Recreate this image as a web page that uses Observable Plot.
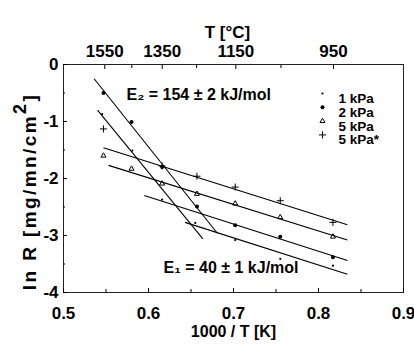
<!DOCTYPE html>
<html>
<head>
<meta charset="utf-8">
<script src="https://cdn.jsdelivr.net/npm/d3@7"></script>
<script src="https://cdn.jsdelivr.net/npm/@observablehq/plot@0.6"></script>
<style>
  html, body { margin: 0; padding: 0; background: #fff; }
  #chart { width: 414px; height: 344px; }
</style>
</head>
<body>
<div id="chart"></div>
<script>
// ---- data ----
const seriesNames = ["1 kPa", "2 kPa", "5 kPa", "5 kPa*"];
const seriesSymbols = ["circle", "circle", "triangle2", "plus"];

const invT_1kPa = [0.5455, 0.581, 0.616, 0.655, 0.702, 0.755, 0.817];
const lnR_1kPa  = [-0.87, -1.51, -2.37, -2.78, -3.08, -3.41, -3.53];
const invT_2kPa = [0.547, 0.580, 0.616, 0.657, 0.702, 0.755, 0.817];
const lnR_2kPa  = [-0.50, -1.01, -1.80, -2.49, -2.82, -3.02, -3.38];
const invT_5kPa = [0.547, 0.580, 0.616, 0.657, 0.702, 0.755, 0.817];
const lnR_5kPa  = [-1.60, -1.83, -2.09, -2.27, -2.44, -2.68, -3.02];
const invT_5kPaS = [0.547, 0.616, 0.657, 0.702, 0.755, 0.817];
const lnR_5kPaS  = [-1.13, -1.78, -1.96, -2.15, -2.39, -2.77];

// fitted Arrhenius lines (start / end points in data units)
const fitX1 = [0.536, 0.540, 0.547, 0.553, 0.595, 0.643];
const fitY1 = [-0.25, -0.80, -1.46, -1.77, -2.30, -2.77];
const fitX2 = [0.681, 0.664, 0.834, 0.834, 0.834, 0.834];
const fitY2 = [-2.96, -3.06, -2.81, -3.08, -3.44, -3.68];

const xTicks = [0.5, 0.6, 0.7, 0.8, 0.9];
const xMinorTicks = [0.55, 0.65, 0.75, 0.85];
const yTicks = [0, -1, -2, -3, -4];
const yMinorTicks = [-0.5, -1.5, -2.5, -3.5];
const tempLabelsC = [1550, 1350, 1150, 950];
const tempMinorC = [1450, 1250, 1050];

const xTitle = "1000 / T [K]";
const topTitle = "T [°C]";
const yTitleMain = "ln R [mg/mn/cm";
const yTitleSup = "2";
const yTitleEnd = "]";
const e2Label = "E₂ = 154 ± 2 kJ/mol";
const e1Label = "E₁ = 40 ± 1 kJ/mol";

// ---- build tables ----
const seriesX = [invT_1kPa, invT_2kPa, invT_5kPa, invT_5kPaS];
const seriesY = [lnR_1kPa, lnR_2kPa, lnR_5kPa, lnR_5kPaS];
const seriesData = seriesX.map((xs, s) => xs.map((x, i) => ({series: seriesNames[s], x, y: seriesY[s][i]})));
const fits = fitX1.map((x1, i) => ({x1, y1: fitY1[i], x2: fitX2[i], y2: fitY2[i]}));
const toInvT = c => 1000 / (c + 273);

const markerR = [1.1, 2, 2.4, 2.4];
const markerStyle = s => s < 2
  ? {symbol: seriesSymbols[s], r: markerR[s], fill: "black", stroke: "none"}
  : {symbol: seriesSymbols[s], r: markerR[s], fill: "none", stroke: "black", strokeWidth: 1};

const font = "'Liberation Sans', Arial, Helvetica, sans-serif";

const dataMarks = seriesData.map((data, s) => Plot.dot(data, {x: "x", y: "y", ...markerStyle(s)}));

const legendMarks = seriesNames.flatMap((name, i) => [
  Plot.dot([name], {frameAnchor: "top-right", dx: -81, dy: 29 + i * 13.8, ...markerStyle(i)}),
  Plot.text([name], {frameAnchor: "top-right", dx: -65, dy: 29 + i * 13.8, text: d => d,
    textAnchor: "start", fontSize: 13.5, fontWeight: "bold"})
]);

const chart = Plot.plot({
  width: 414,
  height: 344,
  marginLeft: 63,
  marginRight: 11,
  marginTop: 64,
  marginBottom: 52,
  style: {fontFamily: font, fontSize: "17px", fontWeight: "bold", background: "white", color: "black"},
  x: {domain: [0.5, 0.9]},
  y: {domain: [-4, 0]},
  marks: [
    Plot.frame({stroke: "#222", strokeWidth: 1}),
    // bottom axis
    Plot.axisX({ticks: xTicks, tickSize: 0, tickPadding: 14, tickFormat: d => d.toFixed(1), label: null}),
    Plot.axisX({ticks: xTicks, tickSize: -4, tickFormat: () => "", label: null}),
    Plot.axisX({ticks: xMinorTicks, tickSize: -3, tickFormat: () => "", label: null}),
    // top axis (temperature)
    Plot.axisX({anchor: "top", ticks: tempLabelsC.map(toInvT), tickSize: 0, tickPadding: 8,
      tickFormat: d => String(Math.round(1000 / d - 273)), label: null}),
    Plot.axisX({anchor: "top", ticks: tempLabelsC.map(toInvT), tickSize: -4, tickFormat: () => "", label: null}),
    Plot.axisX({anchor: "top", ticks: tempMinorC.map(toInvT), tickSize: -3, tickFormat: () => "", label: null}),
    // left axis
    Plot.axisY({ticks: yTicks, tickSize: 0, tickPadding: 5, tickFormat: d => String(d), label: null}),
    Plot.axisY({ticks: yTicks, tickSize: -4, tickFormat: () => "", label: null}),
    Plot.axisY({ticks: yMinorTicks, tickSize: -2, tickFormat: () => "", label: null}),
    // titles
    Plot.text([xTitle], {frameAnchor: "bottom", dy: 44, text: d => d, fontSize: 16}),
    Plot.text([topTitle], {frameAnchor: "top", dx: -6, dy: -39, text: d => d, fontSize: 17}),
    Plot.text([yTitleMain], {frameAnchor: "left", textAnchor: "middle", dx: -34, dy: 13, rotate: -90, text: d => d, fontSize: 19}),
    // fit lines
    Plot.link(fits, {x1: "x1", y1: "y1", x2: "x2", y2: "y2", stroke: "black", strokeWidth: 1.1}),
    // data points
    ...dataMarks,
    // annotations
    Plot.text([e2Label], {frameAnchor: "top-left", dx: 63, dy: 24, text: d => d, textAnchor: "start", fontSize: 16}),
    Plot.text([e1Label], {frameAnchor: "bottom-left", dx: 100, dy: -20, text: d => d, textAnchor: "start", fontSize: 16}),
    ...legendMarks
  ]
});

// y title: widen spacing and add the raised "2" and closing bracket
d3.select(chart).selectAll("text")
  .filter(function () { return this.textContent === yTitleMain; })
  .each(function () {
    const t = d3.select(this);
    t.attr("letter-spacing", "2.4px").text(null);
    t.append("tspan").text(yTitleMain);
    t.append("tspan").attr("dy", "-0.55em").attr("font-size", "0.95em").text(yTitleSup);
    t.append("tspan").attr("dy", "0.55em").text(yTitleEnd);
  });

document.getElementById("chart").appendChild(chart);
</script>
</body>
</html>
